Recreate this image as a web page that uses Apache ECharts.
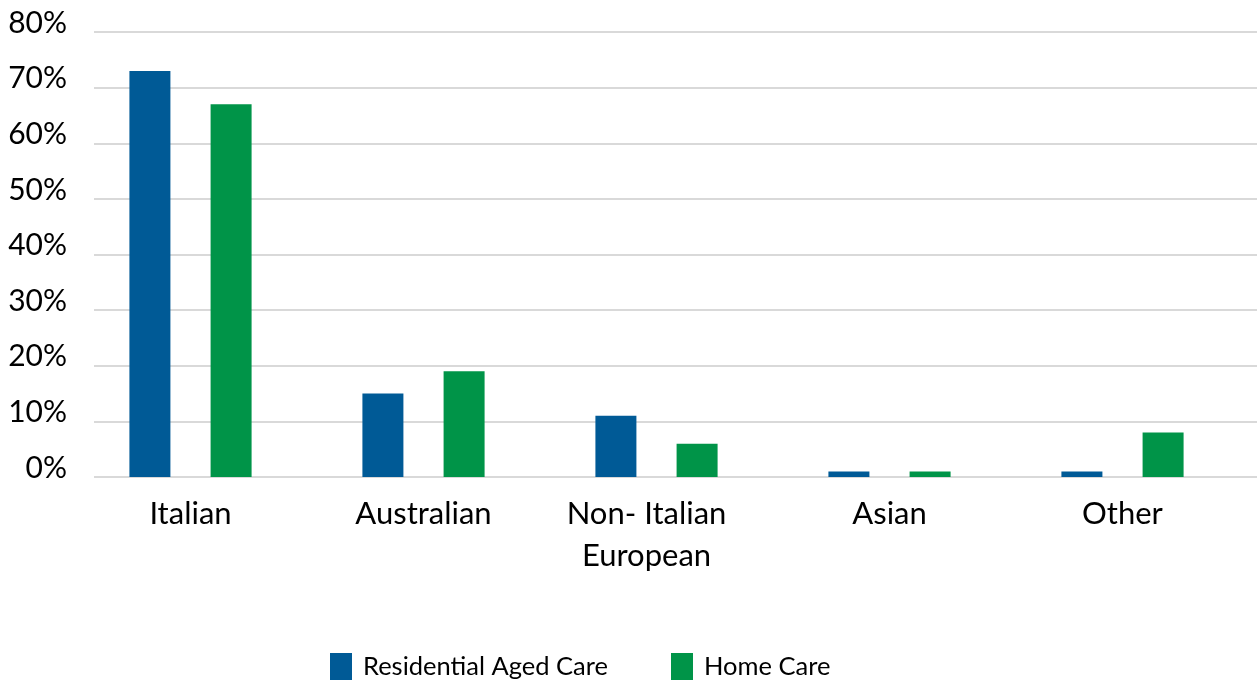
<!DOCTYPE html>
<html>
<head>
<meta charset="utf-8">
<script src="https://cdn.jsdelivr.net/npm/echarts@6/dist/echarts.min.js"></script>
<style>
  html, body { margin: 0; padding: 0; background: #fff; }
  #chart { width: 1258px; height: 688px; }
</style>
</head>
<body>
<div id="chart"></div>
<script>
var categories = ['Italian', 'Australian', 'Non- Italian\nEuropean', 'Asian', 'Other']
var residentialAgedCare = [0.73, 0.15, 0.11, 0.01, 0.01]
var homeCare = [0.67, 0.19, 0.06, 0.01, 0.08]
var seriesNames = ['Residential Aged Care', 'Home Care']

var fontFamily = 'Lato, "Open Sans", sans-serif'
var chart = echarts.init(document.getElementById('chart'))

var option = {
  animation: false,
  color: ['#005A96', '#009448'],
  textStyle: { fontFamily: fontFamily },
  legend: {
    data: seriesNames,
    bottom: 3,
    left: 325,
    itemWidth: 22,
    itemHeight: 27,
    itemGap: 63,
    icon: 'rect',
    textStyle: { fontSize: 25.5, color: '#000', fontFamily: fontFamily, padding: [0, 0, 0, 6] }
  },
  // grid 0 only draws gridlines and percent labels, grid 1 holds the bars
  grid: [
    { left: 94, right: 1, top: 32, bottom: 211 },
    { left: 74, right: 19, top: 32, bottom: 211 }
  ],
  xAxis: [
    { gridIndex: 0, type: 'value', show: false },
    {
      gridIndex: 1,
      type: 'category',
      data: categories,
      axisLine: { show: false },
      axisTick: { show: false },
      axisLabel: {
        fontSize: 31,
        color: '#000',
        lineHeight: 42,
        margin: 16,
        interval: 0,
        fontFamily: fontFamily,
        // the two-line label sits a little left of its bars in the original
        formatter: function (v) {
          if (v.indexOf('\n') < 0) return v
          return v.split('\n').map(function (s) { return '{s|' + s + '}' }).join('\n')
        },
        rich: {
          s: { fontSize: 31, lineHeight: 42, color: '#000', fontFamily: fontFamily, padding: [0, 20, 0, 0] }
        }
      }
    }
  ],
  yAxis: [
    {
      gridIndex: 0,
      type: 'value',
      min: 0,
      max: 0.8,
      interval: 0.1,
      axisLine: { show: false },
      axisTick: { show: false },
      splitLine: { lineStyle: { color: '#d9d9d9', width: 2 } },
      axisLabel: {
        fontSize: 30,
        color: '#000',
        margin: 27,
        verticalAlign: 'bottom',
        lineHeight: 18,
        fontFamily: fontFamily,
        formatter: function (v) { return Math.round(v * 100) + '%' }
      }
    },
    {
      gridIndex: 1,
      type: 'value',
      min: 0,
      max: 0.8,
      interval: 0.1,
      show: false,
      splitLine: { show: false }
    }
  ],
  series: [
    {
      name: seriesNames[0],
      type: 'bar',
      xAxisIndex: 1,
      yAxisIndex: 1,
      barWidth: 41,
      barGap: '98%',
      data: residentialAgedCare
    },
    {
      name: seriesNames[1],
      type: 'bar',
      xAxisIndex: 1,
      yAxisIndex: 1,
      barWidth: 41,
      barGap: '98%',
      data: homeCare
    }
  ]
}

chart.setOption(option)
</script>
</body>
</html>
